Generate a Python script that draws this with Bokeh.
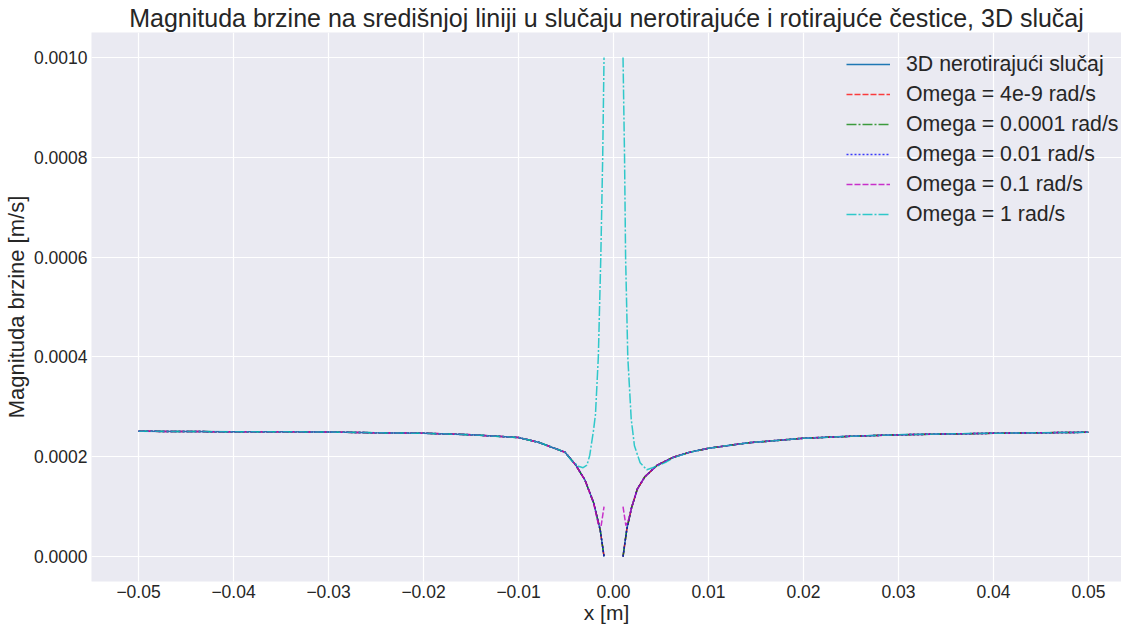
from bokeh.plotting import figure
from bokeh.models import Range1d, FixedTicker, CustomJSTickFormatter, Legend, LegendItem
from bokeh.embed import file_html
from bokeh.resources import INLINE

NAN = float("nan")

# ---- data ----
x_base_left = [-0.05, -0.045, -0.04, -0.035, -0.03, -0.025, -0.02, -0.015, -0.01,
               -0.0079, -0.0051, -0.004, -0.003, -0.0021, -0.0014, -0.001]
y_base_left = [0.000251, 0.0002505, 0.00025, 0.00025, 0.0002495, 0.000248, 0.000247, 0.000244,
               0.0002385, 0.000229, 0.000209, 0.000184, 0.000153, 0.000108, 0.000053, 0.0]
x_base_right = [0.001, 0.0014, 0.0019, 0.0025, 0.0033, 0.0046, 0.0063, 0.008, 0.01, 0.0142,
                0.02, 0.025, 0.03, 0.035, 0.04, 0.045, 0.05]
y_base_right = [0.0, 0.000055, 0.000098, 0.000135, 0.00016, 0.000183, 0.000199, 0.000209,
                0.000217, 0.000228, 0.000237, 0.000241, 0.000244, 0.0002455, 0.000247,
                0.000248, 0.000249]

# Omega = 0.1 rad/s
x_m_left = [-0.05, -0.045, -0.04, -0.035, -0.03, -0.025, -0.02, -0.015, -0.01,
            -0.0079, -0.0051, -0.004, -0.003, -0.0021, -0.0016, -0.0013, -0.001]
y_m_left = [0.000251, 0.0002505, 0.00025, 0.00025, 0.0002495, 0.000248, 0.000247, 0.000244,
            0.0002385, 0.000229, 0.000209, 0.000184, 0.000153, 0.000108, 0.000065, 0.000062, 0.0001]
x_m_right = [0.001, 0.0013, 0.0016, 0.0019, 0.0025, 0.0033, 0.0046, 0.0063, 0.008, 0.01, 0.0142,
             0.02, 0.025, 0.03, 0.035, 0.04, 0.045, 0.05]
y_m_right = [0.0001, 0.000062, 0.000075, 0.000098, 0.000135, 0.00016, 0.000183, 0.000199,
             0.000209, 0.000217, 0.000228, 0.000237, 0.000241, 0.000244, 0.0002455, 0.000247,
             0.000248, 0.000249]

# Omega = 1 rad/s
x_c_left = [-0.05, -0.045, -0.04, -0.035, -0.03, -0.025, -0.02, -0.015, -0.01,
            -0.0079, -0.0051, -0.0044, -0.0037, -0.0032, -0.0028, -0.0025, -0.0021, -0.0019,
            -0.0016, -0.00134, -0.00114, -0.001]
y_c_left = [0.000251, 0.0002505, 0.00025, 0.00025, 0.0002495, 0.000248, 0.000247, 0.000244,
            0.0002385, 0.000229, 0.000209, 0.000192, 0.000181, 0.000178, 0.000183, 0.000203,
            0.000254, 0.000285, 0.0004, 0.0006, 0.0008, 0.001]
x_c_right = [0.001, 0.00116, 0.00127, 0.0015, 0.00186, 0.0022, 0.0028, 0.0035, 0.0046, 0.0056,
             0.0063, 0.008, 0.01, 0.0142, 0.02, 0.025, 0.03, 0.035, 0.04, 0.045, 0.05]
y_c_right = [0.001, 0.0008, 0.0006, 0.0004, 0.000276, 0.000222, 0.000188, 0.000174, 0.000181,
             0.00019, 0.000198, 0.000209, 0.000217, 0.000228, 0.000237, 0.000241, 0.000244,
             0.0002455, 0.000247, 0.000248, 0.000249]

labels = ["3D nerotirajući slučaj", "Omega = 4e-9 rad/s", "Omega = 0.0001 rad/s",
          "Omega = 0.01 rad/s", "Omega = 0.1 rad/s", "Omega = 1 rad/s"]
x_ticks = [-0.05, -0.04, -0.03, -0.02, -0.01, 0.0, 0.01, 0.02, 0.03, 0.04, 0.05]
y_ticks = [0.0, 0.0002, 0.0004, 0.0006, 0.0008, 0.001]

base_x = x_base_left + [NAN] + x_base_right
base_y = y_base_left + [NAN] + y_base_right
series = [
    (base_x, base_y),
    (base_x, base_y),
    (base_x, base_y),
    (base_x, base_y),
    (x_m_left + [NAN] + x_m_right, y_m_left + [NAN] + y_m_right),
    (x_c_left + [NAN] + x_c_right, y_c_left + [NAN] + y_c_right),
]
styles = [
    dict(color="#1f77b4", dash="solid", alpha=1.0),
    dict(color="#ff0000", dash="6 2", alpha=0.75),
    dict(color="#008000", dash="10 2 2 2", alpha=0.75),
    dict(color="#0000ff", dash="2 2", alpha=0.75),
    dict(color="#bf00bf", dash="6 2", alpha=0.8),
    dict(color="#00bfbf", dash="10 2 2 2", alpha=0.8),
]

FONT = "Liberation Sans"
TXT = "#262626"

p = figure(frame_width=1030, frame_height=549, output_backend="svg", toolbar_location=None,
           x_range=Range1d(-0.05495, 0.05347), y_range=Range1d(-0.00005, 0.00105),
           min_border_left=84, min_border_right=0, min_border_top=27, min_border_bottom=36,
           background_fill_color="#eaeaf2", border_fill_color="white")
p.outline_line_color = None

p.title.text = "Magnituda brzine na središnjoj liniji u slučaju nerotirajuće i rotirajuće čestice, 3D slučaj"
p.title.align = "center"
p.title.text_font = FONT
p.title.text_font_size = "25px"
p.title.text_font_style = "normal"
p.title.text_color = TXT
p.title.standoff = 2

for ax in (p.xaxis[0], p.yaxis[0]):
    ax.axis_line_color = None
    ax.major_tick_line_color = None
    ax.minor_tick_line_color = None
    ax.major_label_text_font = FONT
    ax.major_label_text_font_size = "17.5px"
    ax.major_label_text_color = TXT
    ax.axis_label_text_font = FONT
    ax.axis_label_text_font_size = "21px"
    ax.axis_label_text_font_style = "normal"
    ax.axis_label_text_color = TXT
    ax.major_tick_in = 0
    ax.major_tick_out = 0

p.xaxis.axis_label = "x [m]"
p.yaxis.axis_label = "Magnituda brzine [m/s]"
p.yaxis.axis_label_text_font_size = "22px"
p.xaxis.ticker = FixedTicker(ticks=x_ticks)
p.yaxis.ticker = FixedTicker(ticks=y_ticks)
p.xaxis.formatter = CustomJSTickFormatter(code="""
  if (Math.abs(tick) < 1e-12) return '0.00';
  return (tick < 0 ? '\u2212' : '') + Math.abs(tick).toFixed(2);
""")
p.yaxis.formatter = CustomJSTickFormatter(code="return Math.abs(tick) < 1e-12 ? '0.0000' : tick.toFixed(4);")
p.xaxis.major_label_standoff = 3
p.yaxis.major_label_standoff = 4
p.xaxis.axis_label_standoff = 0
p.yaxis.axis_label_standoff = 2

p.grid.grid_line_color = "white"
p.grid.grid_line_width = 1.2

items = []
for (xs, ys), st, lab in zip(series, styles, labels):
    r = p.line(xs, ys, line_color=st["color"], line_dash=st["dash"], line_alpha=st["alpha"],
               line_width=1.5)
    items.append(LegendItem(label=lab, renderers=[r]))

# legend: bottom-left corner given in screen units relative to the frame
leg = Legend(items=items, location=(751, 348))
leg.background_fill_alpha = 0
leg.border_line_alpha = 0
leg.label_text_font = FONT
leg.label_text_font_size = "21.3px"
leg.label_text_color = TXT
leg.glyph_width = 44
leg.glyph_height = 30
leg.label_height = 30
leg.label_standoff = 16
leg.spacing = 0
leg.padding = 4
leg.margin = 0
p.add_layout(leg)

open("out.html", "w").write(file_html(p, INLINE))
